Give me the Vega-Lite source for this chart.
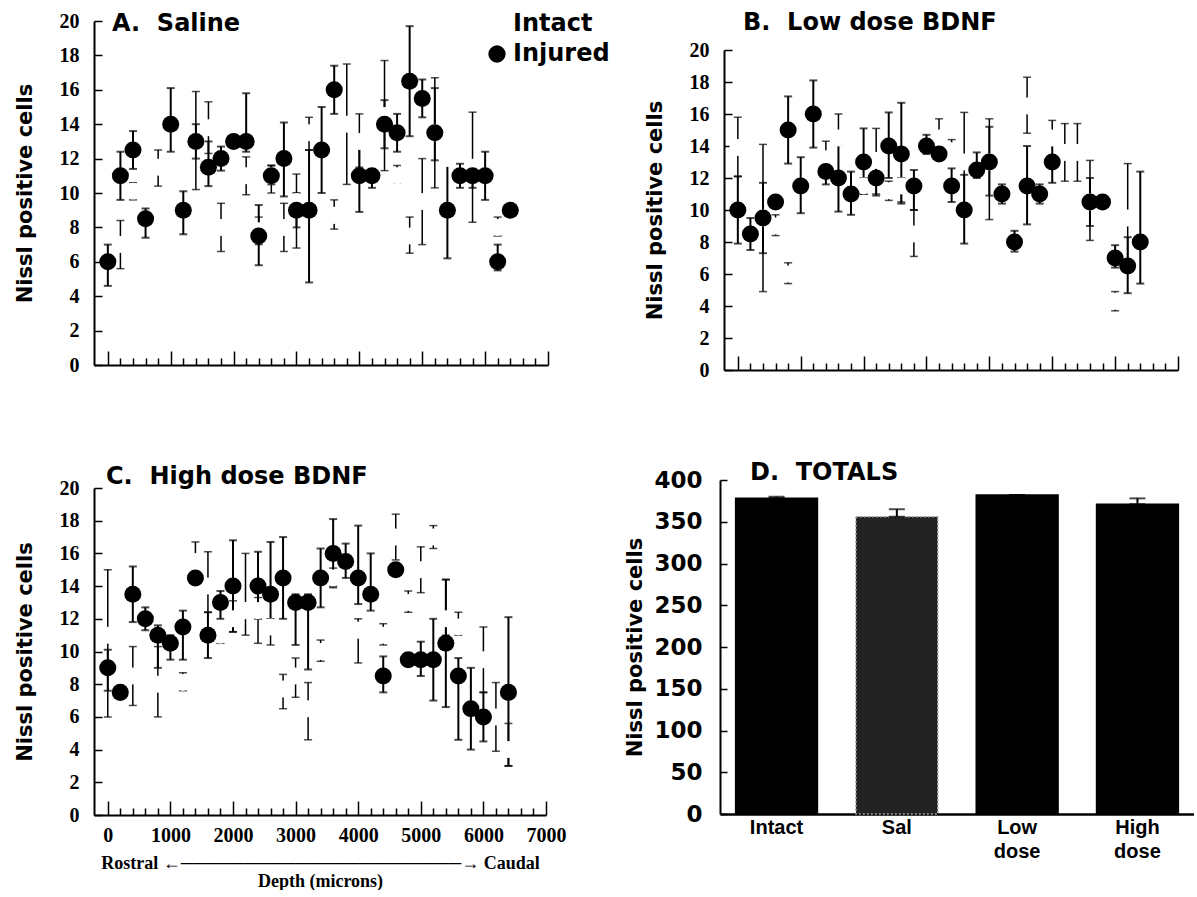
{
  "$schema": "https://vega.github.io/schema/vega-lite/v6.json",
  "background": "white",
  "padding": {"left": 14, "top": 11, "right": 0, "bottom": 0},
  "config": {
    "view": {"stroke": null},
    "axis": {"grid": false, "domainColor": "black", "domainWidth": 2, "tickColor": "black", "tickWidth": 1.5, "labelColor": "black", "titleColor": "black", "labelFlush": false, "labelOverlap": false},
    "title": {"font": "DejaVu Sans", "fontWeight": "bold", "fontSize": 24, "color": "black", "anchor": "start", "frame": "group"}
  },
  "datasets": {
    "dots": [
      {"panel":"A","group":"Intact","depth":200,"mean":7,"lo":5.6,"hi":8.4},
      {"panel":"A","group":"Intact","depth":400,"mean":10.1,"lo":9.6,"hi":10.6},
      {"panel":"A","group":"Intact","depth":800,"mean":11.5,"lo":10.4,"hi":12.5},
      {"panel":"A","group":"Intact","depth":1400,"mean":13,"lo":10.2,"hi":15.9},
      {"panel":"A","group":"Intact","depth":1600,"mean":13.8,"lo":12.3,"hi":15.3},
      {"panel":"A","group":"Intact","depth":1800,"mean":8,"lo":6.6,"hi":9.4},
      {"panel":"A","group":"Intact","depth":2200,"mean":11,"lo":9.9,"hi":12.1},
      {"panel":"A","group":"Intact","depth":2400,"mean":7.8,"lo":7.0,"hi":8.6},
      {"panel":"A","group":"Intact","depth":2600,"mean":11,"lo":10.0,"hi":11.6},
      {"panel":"A","group":"Intact","depth":2800,"mean":8,"lo":6.6,"hi":9.4},
      {"panel":"A","group":"Intact","depth":3000,"mean":9.5,"lo":6.8,"hi":11.1},
      {"panel":"A","group":"Intact","depth":3200,"mean":13.5,"lo":12.5,"hi":14.4},
      {"panel":"A","group":"Intact","depth":3600,"mean":8.7,"lo":7.9,"hi":9.6},
      {"panel":"A","group":"Intact","depth":3800,"mean":14,"lo":10.5,"hi":17.5},
      {"panel":"A","group":"Intact","depth":4000,"mean":13,"lo":11.5,"hi":14.6},
      {"panel":"A","group":"Intact","depth":4200,"mean":11.6,"lo":11.3,"hi":11.9},
      {"panel":"A","group":"Intact","depth":4400,"mean":14.5,"lo":11.3,"hi":17.7},
      {"panel":"A","group":"Intact","depth":4600,"mean":11,"lo":10.6,"hi":11.6},
      {"panel":"A","group":"Intact","depth":4800,"mean":7.5,"lo":6.5,"hi":8.6},
      {"panel":"A","group":"Intact","depth":5000,"mean":9.5,"lo":7.0,"hi":12.0},
      {"panel":"A","group":"Intact","depth":5200,"mean":13.5,"lo":10.3,"hi":16.7},
      {"panel":"A","group":"Intact","depth":5400,"mean":12,"lo":11.7,"hi":12.3},
      {"panel":"A","group":"Intact","depth":5800,"mean":11.5,"lo":8.3,"hi":14.7},
      {"panel":"A","group":"Intact","depth":6200,"mean":8,"lo":7.5,"hi":8.6},
      {"panel":"A","group":"Injured","depth":0,"mean":6,"lo":4.6,"hi":7.0},
      {"panel":"A","group":"Injured","depth":200,"mean":11,"lo":9.6,"hi":12.4},
      {"panel":"A","group":"Injured","depth":400,"mean":12.5,"lo":11.4,"hi":13.6},
      {"panel":"A","group":"Injured","depth":600,"mean":8.5,"lo":7.4,"hi":9.1},
      {"panel":"A","group":"Injured","depth":1000,"mean":14,"lo":12.4,"hi":16.1},
      {"panel":"A","group":"Injured","depth":1200,"mean":9,"lo":7.6,"hi":10.1},
      {"panel":"A","group":"Injured","depth":1400,"mean":13,"lo":12,"hi":14},
      {"panel":"A","group":"Injured","depth":1600,"mean":11.5,"lo":10.4,"hi":13.0},
      {"panel":"A","group":"Injured","depth":1800,"mean":12,"lo":11.3,"hi":12.7},
      {"panel":"A","group":"Injured","depth":2000,"mean":13,"lo":12.7,"hi":13.3},
      {"panel":"A","group":"Injured","depth":2200,"mean":13,"lo":12.4,"hi":15.8},
      {"panel":"A","group":"Injured","depth":2400,"mean":7.5,"lo":5.8,"hi":9.3},
      {"panel":"A","group":"Injured","depth":2600,"mean":11,"lo":10.5,"hi":11.6},
      {"panel":"A","group":"Injured","depth":2800,"mean":12,"lo":9.8,"hi":14.1},
      {"panel":"A","group":"Injured","depth":3000,"mean":9,"lo":8,"hi":10},
      {"panel":"A","group":"Injured","depth":3200,"mean":9,"lo":4.8,"hi":12.5},
      {"panel":"A","group":"Injured","depth":3400,"mean":12.5,"lo":10.0,"hi":15.0},
      {"panel":"A","group":"Injured","depth":3600,"mean":16,"lo":14.6,"hi":17.4},
      {"panel":"A","group":"Injured","depth":4000,"mean":11,"lo":8.9,"hi":13.1},
      {"panel":"A","group":"Injured","depth":4200,"mean":11,"lo":10.3,"hi":11.7},
      {"panel":"A","group":"Injured","depth":4400,"mean":14,"lo":12.6,"hi":15.4},
      {"panel":"A","group":"Injured","depth":4600,"mean":13.5,"lo":12.4,"hi":14.6},
      {"panel":"A","group":"Injured","depth":4800,"mean":16.5,"lo":13.3,"hi":19.7},
      {"panel":"A","group":"Injured","depth":5000,"mean":15.5,"lo":14.4,"hi":16.6},
      {"panel":"A","group":"Injured","depth":5200,"mean":13.5,"lo":11.9,"hi":16.1},
      {"panel":"A","group":"Injured","depth":5400,"mean":9,"lo":6.2,"hi":11.8},
      {"panel":"A","group":"Injured","depth":5600,"mean":11,"lo":10.3,"hi":11.7},
      {"panel":"A","group":"Injured","depth":5800,"mean":11,"lo":10.3,"hi":11.7},
      {"panel":"A","group":"Injured","depth":6000,"mean":11,"lo":9.6,"hi":12.4},
      {"panel":"A","group":"Injured","depth":6200,"mean":6,"lo":5.5,"hi":7.0},
      {"panel":"A","group":"Injured","depth":6400,"mean":9,"lo":8.7,"hi":9.3},
      {"panel":"B","group":"Intact","depth":0,"mean":13.9,"lo":12.1,"hi":15.8},
      {"panel":"B","group":"Intact","depth":400,"mean":9.5,"lo":4.9,"hi":14.1},
      {"panel":"B","group":"Intact","depth":600,"mean":9,"lo":8.4,"hi":9.7},
      {"panel":"B","group":"Intact","depth":800,"mean":6,"lo":5.4,"hi":6.7},
      {"panel":"B","group":"Intact","depth":1400,"mean":13.2,"lo":12.2,"hi":14.3},
      {"panel":"B","group":"Intact","depth":1600,"mean":14.5,"lo":14.1,"hi":16.0},
      {"panel":"B","group":"Intact","depth":2000,"mean":11.5,"lo":11.0,"hi":12.0},
      {"panel":"B","group":"Intact","depth":2200,"mean":13.1,"lo":11.0,"hi":15.1},
      {"panel":"B","group":"Intact","depth":2400,"mean":11.2,"lo":10.6,"hi":11.8},
      {"panel":"B","group":"Intact","depth":2600,"mean":11.5,"lo":10.5,"hi":12.0},
      {"panel":"B","group":"Intact","depth":2800,"mean":8.5,"lo":7.1,"hi":10.0},
      {"panel":"B","group":"Intact","depth":3200,"mean":14.5,"lo":14.2,"hi":15.7},
      {"panel":"B","group":"Intact","depth":3400,"mean":13.7,"lo":13.5,"hi":14.4},
      {"panel":"B","group":"Intact","depth":3600,"mean":13,"lo":10.0,"hi":16.1},
      {"panel":"B","group":"Intact","depth":4000,"mean":13,"lo":9.4,"hi":15.7},
      {"panel":"B","group":"Intact","depth":4600,"mean":16.5,"lo":14.8,"hi":18.3},
      {"panel":"B","group":"Intact","depth":5000,"mean":14.5,"lo":14.1,"hi":15.6},
      {"panel":"B","group":"Intact","depth":5200,"mean":13.6,"lo":11.8,"hi":15.4},
      {"panel":"B","group":"Intact","depth":5400,"mean":13.6,"lo":11.8,"hi":15.4},
      {"panel":"B","group":"Intact","depth":5600,"mean":10.5,"lo":8.1,"hi":13.1},
      {"panel":"B","group":"Intact","depth":5800,"mean":9.6,"lo":9.4,"hi":9.8},
      {"panel":"B","group":"Intact","depth":6000,"mean":4.3,"lo":3.7,"hi":4.9},
      {"panel":"B","group":"Intact","depth":6200,"mean":9.5,"lo":6.1,"hi":12.9},
      {"panel":"B","group":"Intact","depth":6400,"mean":4,"lo":3.8,"hi":4.2},
      {"panel":"B","group":"Injured","depth":0,"mean":10,"lo":7.9,"hi":12.1},
      {"panel":"B","group":"Injured","depth":200,"mean":8.5,"lo":7.5,"hi":9.5},
      {"panel":"B","group":"Injured","depth":400,"mean":9.5,"lo":7.3,"hi":11.7},
      {"panel":"B","group":"Injured","depth":600,"mean":10.5,"lo":10.2,"hi":10.8},
      {"panel":"B","group":"Injured","depth":800,"mean":15,"lo":12.9,"hi":17.1},
      {"panel":"B","group":"Injured","depth":1000,"mean":11.5,"lo":9.8,"hi":13.3},
      {"panel":"B","group":"Injured","depth":1200,"mean":16,"lo":13.9,"hi":18.1},
      {"panel":"B","group":"Injured","depth":1400,"mean":12.4,"lo":11.6,"hi":13.2},
      {"panel":"B","group":"Injured","depth":1600,"mean":12,"lo":9.9,"hi":14.1},
      {"panel":"B","group":"Injured","depth":1800,"mean":11,"lo":9.7,"hi":12.4},
      {"panel":"B","group":"Injured","depth":2000,"mean":13,"lo":11.0,"hi":15.1},
      {"panel":"B","group":"Injured","depth":2200,"mean":12,"lo":10.9,"hi":13.1},
      {"panel":"B","group":"Injured","depth":2400,"mean":14,"lo":12.0,"hi":16.1},
      {"panel":"B","group":"Injured","depth":2600,"mean":13.5,"lo":10.4,"hi":16.7},
      {"panel":"B","group":"Injured","depth":2800,"mean":11.5,"lo":10.0,"hi":12.5},
      {"panel":"B","group":"Injured","depth":3000,"mean":14,"lo":13.5,"hi":14.7},
      {"panel":"B","group":"Injured","depth":3200,"mean":13.5,"lo":13.2,"hi":13.8},
      {"panel":"B","group":"Injured","depth":3400,"mean":11.5,"lo":10.5,"hi":12.6},
      {"panel":"B","group":"Injured","depth":3600,"mean":10,"lo":7.9,"hi":12.2},
      {"panel":"B","group":"Injured","depth":3800,"mean":12.5,"lo":12.0,"hi":13.6},
      {"panel":"B","group":"Injured","depth":4000,"mean":13,"lo":10.9,"hi":15.2},
      {"panel":"B","group":"Injured","depth":4200,"mean":11,"lo":10.4,"hi":11.6},
      {"panel":"B","group":"Injured","depth":4400,"mean":8,"lo":7.4,"hi":8.7},
      {"panel":"B","group":"Injured","depth":4600,"mean":11.5,"lo":9.1,"hi":14.0},
      {"panel":"B","group":"Injured","depth":4800,"mean":11,"lo":10.4,"hi":11.6},
      {"panel":"B","group":"Injured","depth":5000,"mean":13,"lo":11.7,"hi":14.3},
      {"panel":"B","group":"Injured","depth":5600,"mean":10.5,"lo":9.0,"hi":12.0},
      {"panel":"B","group":"Injured","depth":5800,"mean":10.5,"lo":10.2,"hi":10.8},
      {"panel":"B","group":"Injured","depth":6000,"mean":7,"lo":6.4,"hi":7.8},
      {"panel":"B","group":"Injured","depth":6200,"mean":6.5,"lo":4.8,"hi":8.3},
      {"panel":"B","group":"Injured","depth":6400,"mean":8,"lo":5.4,"hi":12.4},
      {"panel":"C","group":"Intact","depth":0,"mean":11,"lo":6.0,"hi":15.0},
      {"panel":"C","group":"Intact","depth":400,"mean":8.5,"lo":6.7,"hi":10.3},
      {"panel":"C","group":"Intact","depth":800,"mean":8,"lo":6.0,"hi":10.3},
      {"panel":"C","group":"Intact","depth":1200,"mean":8.1,"lo":7.6,"hi":8.7},
      {"panel":"C","group":"Intact","depth":1400,"mean":15.5,"lo":15.3,"hi":16.7},
      {"panel":"C","group":"Intact","depth":1600,"mean":14,"lo":12.4,"hi":16.1},
      {"panel":"C","group":"Intact","depth":1800,"mean":11,"lo":10.5,"hi":11.4},
      {"panel":"C","group":"Intact","depth":2000,"mean":12,"lo":11.2,"hi":13.1},
      {"panel":"C","group":"Intact","depth":2200,"mean":12.5,"lo":11.0,"hi":16.0},
      {"panel":"C","group":"Intact","depth":2400,"mean":12.5,"lo":10.5,"hi":13.3},
      {"panel":"C","group":"Intact","depth":2600,"mean":11.5,"lo":10.4,"hi":12.0},
      {"panel":"C","group":"Intact","depth":2800,"mean":7.7,"lo":6.5,"hi":8.6},
      {"panel":"C","group":"Intact","depth":3000,"mean":8.5,"lo":7.2,"hi":9.6},
      {"panel":"C","group":"Intact","depth":3200,"mean":6.5,"lo":4.6,"hi":8.1},
      {"panel":"C","group":"Intact","depth":3400,"mean":10,"lo":9.4,"hi":10.7},
      {"panel":"C","group":"Intact","depth":3600,"mean":14.5,"lo":13.9,"hi":15.1},
      {"panel":"C","group":"Intact","depth":4000,"mean":11.3,"lo":9.3,"hi":12.0},
      {"panel":"C","group":"Intact","depth":4200,"mean":11,"lo":10.7,"hi":11.2},
      {"panel":"C","group":"Intact","depth":4400,"mean":11,"lo":10.4,"hi":11.7},
      {"panel":"C","group":"Intact","depth":4600,"mean":17,"lo":15.6,"hi":18.4},
      {"panel":"C","group":"Intact","depth":4800,"mean":13,"lo":12.4,"hi":13.7},
      {"panel":"C","group":"Intact","depth":5000,"mean":15,"lo":13.6,"hi":16.4},
      {"panel":"C","group":"Intact","depth":5200,"mean":17,"lo":16.3,"hi":17.7},
      {"panel":"C","group":"Intact","depth":5400,"mean":12,"lo":11.0,"hi":14.4},
      {"panel":"C","group":"Intact","depth":5600,"mean":11.5,"lo":11.0,"hi":12.4},
      {"panel":"C","group":"Intact","depth":6000,"mean":9.5,"lo":7.5,"hi":11.5},
      {"panel":"C","group":"Intact","depth":6200,"mean":6,"lo":3.9,"hi":8.1},
      {"panel":"C","group":"Intact","depth":6400,"mean":4,"lo":3.0,"hi":5.6},
      {"panel":"C","group":"Injured","depth":0,"mean":9,"lo":7.6,"hi":10.1},
      {"panel":"C","group":"Injured","depth":200,"mean":7.5,"lo":7.4,"hi":7.6},
      {"panel":"C","group":"Injured","depth":400,"mean":13.5,"lo":11.8,"hi":15.2},
      {"panel":"C","group":"Injured","depth":600,"mean":12,"lo":11.3,"hi":12.7},
      {"panel":"C","group":"Injured","depth":800,"mean":11,"lo":9.0,"hi":11.6},
      {"panel":"C","group":"Injured","depth":1000,"mean":10.5,"lo":9.5,"hi":11.0},
      {"panel":"C","group":"Injured","depth":1200,"mean":11.5,"lo":9.5,"hi":12.5},
      {"panel":"C","group":"Injured","depth":1400,"mean":14.5,"lo":14.2,"hi":14.8},
      {"panel":"C","group":"Injured","depth":1600,"mean":11,"lo":9.6,"hi":12.4},
      {"panel":"C","group":"Injured","depth":1800,"mean":13,"lo":12.0,"hi":13.7},
      {"panel":"C","group":"Injured","depth":2000,"mean":14,"lo":11.2,"hi":16.8},
      {"panel":"C","group":"Injured","depth":2400,"mean":14,"lo":12.0,"hi":16.1},
      {"panel":"C","group":"Injured","depth":2600,"mean":13.5,"lo":11.7,"hi":16.7},
      {"panel":"C","group":"Injured","depth":2800,"mean":14.5,"lo":12.0,"hi":17.0},
      {"panel":"C","group":"Injured","depth":3000,"mean":13,"lo":10.4,"hi":13.5},
      {"panel":"C","group":"Injured","depth":3200,"mean":13,"lo":8.9,"hi":13.5},
      {"panel":"C","group":"Injured","depth":3400,"mean":14.5,"lo":12.7,"hi":16.3},
      {"panel":"C","group":"Injured","depth":3600,"mean":16,"lo":14.0,"hi":18.1},
      {"panel":"C","group":"Injured","depth":3800,"mean":15.5,"lo":14.5,"hi":16.6},
      {"panel":"C","group":"Injured","depth":4000,"mean":14.5,"lo":12.9,"hi":17.7},
      {"panel":"C","group":"Injured","depth":4200,"mean":13.5,"lo":12.5,"hi":16.0},
      {"panel":"C","group":"Injured","depth":4400,"mean":8.5,"lo":7.5,"hi":9.7},
      {"panel":"C","group":"Injured","depth":4600,"mean":15,"lo":14.8,"hi":15.2},
      {"panel":"C","group":"Injured","depth":4800,"mean":9.5,"lo":9.3,"hi":9.7},
      {"panel":"C","group":"Injured","depth":5000,"mean":9.5,"lo":8.5,"hi":10.6},
      {"panel":"C","group":"Injured","depth":5200,"mean":9.5,"lo":7.0,"hi":12.0},
      {"panel":"C","group":"Injured","depth":5400,"mean":10.5,"lo":6.6,"hi":14.4},
      {"panel":"C","group":"Injured","depth":5600,"mean":8.5,"lo":4.6,"hi":9.6},
      {"panel":"C","group":"Injured","depth":5800,"mean":6.5,"lo":4.0,"hi":9.0},
      {"panel":"C","group":"Injured","depth":6000,"mean":6,"lo":4.5,"hi":7.5},
      {"panel":"C","group":"Injured","depth":6400,"mean":7.5,"lo":3.0,"hi":12.1}
    ],
    "totals": [
      {"group":"Intact","total":378,"upper":380},
      {"group":"Sal","total":356,"upper":365},
      {"group":"Low dose","total":382,"upper":382},
      {"group":"High dose","total":371,"upper":378}
    ]
  },
  "resolve": {"scale": {"color": "independent"}},
  "spacing": 81,
  "vconcat": [
    {
      "spacing": 34,
      "resolve": {"scale": {"color": "independent"}},
      "hconcat": [
        {
          "width": 454, "height": 344,
          "title": {"text": "A.\u00a0\u00a0Saline", "offset": -25, "dx": 18},
          "data": {"name": "dots"},
          "transform": [{"filter": "datum.panel === 'A'"}],
          "encoding": {
            "x": {"field": "depth", "type": "quantitative", "scale": {"domain": [-220, 7000], "nice": false, "zero": false},
                  "axis": {"values": [0,200,400,600,800,1000,1200,1400,1600,1800,2000,2200,2400,2600,2800,3000,3200,3400,3600,3800,4000,4200,4400,4600,4800,5000,5200,5400,5600,5800,6000,6200,6400,6600,6800,7000],
                           "labels": false, "title": null,
                           "tickSize": {"condition": {"test": "datum.value % 1000 === 0", "value": -14}, "value": -7}}}
          },
          "layer": [
            {"transform": [{"filter": "datum.group === 'Intact'"}],
             "mark": {"type": "errorbar", "ticks": true, "size": 8, "thickness": 1.5, "color": "black"},
             "encoding": {"y": {"field": "lo", "type": "quantitative", "scale": {"domain": [0, 20], "nice": false},
                                "axis": {"values": [0,2,4,6,8,10,12,14,16,18,20], "labelOverlap": false, "title": "Nissl positive cells", "tickSize": -8, "labelPadding": 23, "titlePadding": 24, "labelFont": "Liberation Serif", "labelFontSize": 20, "labelFontWeight": "bold", "titleFont": "DejaVu Sans", "titleFontSize": 21, "titleFontWeight": "bold"}},
                          "y2": {"field": "hi"}}},
            {"transform": [{"filter": "datum.group === 'Injured'"}],
             "mark": {"type": "errorbar", "ticks": true, "size": 8, "thickness": 2, "color": "black"},
             "encoding": {"y": {"field": "lo", "type": "quantitative", "scale": {"domain": [0, 20], "nice": false},
                                "axis": {"values": [0,2,4,6,8,10,12,14,16,18,20], "labelOverlap": false, "title": "Nissl positive cells", "tickSize": -8, "labelPadding": 23, "titlePadding": 24, "labelFont": "Liberation Serif", "labelFontSize": 20, "labelFontWeight": "bold", "titleFont": "DejaVu Sans", "titleFontSize": 21, "titleFontWeight": "bold"}},
                          "y2": {"field": "hi"}}},
            {"mark": {"type": "point", "filled": true, "shape": "circle", "size": 290, "opacity": 1, "strokeWidth": 0},
             "encoding": {"y": {"field": "mean", "type": "quantitative", "scale": {"domain": [0, 20], "nice": false},
                                "axis": {"values": [0,2,4,6,8,10,12,14,16,18,20], "labelOverlap": false, "title": "Nissl positive cells", "tickSize": -8, "labelPadding": 23, "titlePadding": 24, "labelFont": "Liberation Serif", "labelFontSize": 20, "labelFontWeight": "bold", "titleFont": "DejaVu Sans", "titleFontSize": 21, "titleFontWeight": "bold"}},
                          "color": {"field": "group", "type": "nominal", "scale": {"domain": ["Intact", "Injured"], "range": ["white", "black"]},
                                    "legend": {"orient": "none", "legendX": 391, "legendY": -9, "title": null, "symbolType": "circle", "symbolSize": 300, "symbolStrokeWidth": 0, "labelFont": "DejaVu Sans", "labelFontSize": 24, "labelFontWeight": "bold", "labelColor": "black", "rowPadding": 6, "labelOffset": 4}}}}
          ]
        },
        {
          "width": 454, "height": 349,
          "title": {"text": "B.\u00a0\u00a0Low dose BDNF", "offset": -14, "dx": 19},
          "data": {"name": "dots"},
          "transform": [{"filter": "datum.panel === 'B'"}],
          "encoding": {
            "x": {"field": "depth", "type": "quantitative", "scale": {"domain": [-220, 7000], "nice": false, "zero": false},
                  "axis": {"values": [0,200,400,600,800,1000,1200,1400,1600,1800,2000,2200,2400,2600,2800,3000,3200,3400,3600,3800,4000,4200,4400,4600,4800,5000,5200,5400,5600,5800,6000,6200,6400,6600,6800,7000],
                           "labels": false, "title": null,
                           "tickSize": {"condition": {"test": "datum.value % 1000 === 0", "value": -14}, "value": -7}}}
          },
          "layer": [
            {"transform": [{"filter": "datum.group === 'Intact'"}],
             "mark": {"type": "errorbar", "ticks": true, "size": 8, "thickness": 1.5, "color": "black"},
             "encoding": {"y": {"field": "lo", "type": "quantitative", "scale": {"domain": [0, 20], "nice": false, "range": [349, 29]},
                                "axis": {"values": [0,2,4,6,8,10,12,14,16,18,20], "labelOverlap": false, "title": "Nissl positive cells", "tickSize": -8, "labelPadding": 23, "titlePadding": 24, "labelFont": "Liberation Serif", "labelFontSize": 20, "labelFontWeight": "bold", "titleFont": "DejaVu Sans", "titleFontSize": 21, "titleFontWeight": "bold"}},
                          "y2": {"field": "hi"}}},
            {"transform": [{"filter": "datum.group === 'Injured'"}],
             "mark": {"type": "errorbar", "ticks": true, "size": 8, "thickness": 2, "color": "black"},
             "encoding": {"y": {"field": "lo", "type": "quantitative", "scale": {"domain": [0, 20], "nice": false, "range": [349, 29]},
                                "axis": {"values": [0,2,4,6,8,10,12,14,16,18,20], "labelOverlap": false, "title": "Nissl positive cells", "tickSize": -8, "labelPadding": 23, "titlePadding": 24, "labelFont": "Liberation Serif", "labelFontSize": 20, "labelFontWeight": "bold", "titleFont": "DejaVu Sans", "titleFontSize": 21, "titleFontWeight": "bold"}},
                          "y2": {"field": "hi"}}},
            {"transform": [{"filter": "datum.group === 'Intact'"}],
             "mark": {"type": "point", "filled": true, "shape": "circle", "size": 290, "opacity": 1, "strokeWidth": 0, "color": "white"},
             "encoding": {"y": {"field": "mean", "type": "quantitative", "scale": {"domain": [0, 20], "nice": false, "range": [349, 29]},
                                "axis": {"values": [0,2,4,6,8,10,12,14,16,18,20], "labelOverlap": false, "title": "Nissl positive cells", "tickSize": -8, "labelPadding": 23, "titlePadding": 24, "labelFont": "Liberation Serif", "labelFontSize": 20, "labelFontWeight": "bold", "titleFont": "DejaVu Sans", "titleFontSize": 21, "titleFontWeight": "bold"}}}},
            {"transform": [{"filter": "datum.group === 'Injured'"}],
             "mark": {"type": "point", "filled": true, "shape": "circle", "size": 290, "opacity": 1, "strokeWidth": 0, "color": "black"},
             "encoding": {"y": {"field": "mean", "type": "quantitative", "scale": {"domain": [0, 20], "nice": false, "range": [349, 29]},
                                "axis": {"values": [0,2,4,6,8,10,12,14,16,18,20], "labelOverlap": false, "title": "Nissl positive cells", "tickSize": -8, "labelPadding": 23, "titlePadding": 24, "labelFont": "Liberation Serif", "labelFontSize": 20, "labelFontWeight": "bold", "titleFont": "DejaVu Sans", "titleFontSize": 21, "titleFontWeight": "bold"}}}}
          ]
        }
      ]
    },
    {
      "spacing": 58,
      "resolve": {"scale": {"color": "independent"}},
      "hconcat": [
        {
          "width": 452, "height": 335,
          "title": {"text": "C.\u00a0\u00a0High dose BDNF", "offset": -11, "dx": 12},
          "data": {"name": "dots"},
          "transform": [{"filter": "datum.panel === 'C'"}],
          "encoding": {
            "x": {"field": "depth", "type": "quantitative", "scale": {"domain": [-220, 7000], "nice": false, "zero": false},
                  "axis": {"values": [0,200,400,600,800,1000,1200,1400,1600,1800,2000,2200,2400,2600,2800,3000,3200,3400,3600,3800,4000,4200,4400,4600,4800,5000,5200,5400,5600,5800,6000,6200,6400,6600,6800,7000],
                           "format": "d", "labelExpr": "datum.value % 1000 === 0 ? datum.label : ''",
                           "labelFont": "Liberation Serif", "labelFontSize": 20, "labelFontWeight": "bold", "labelPadding": 24,
                           "title": ["Rostral ←──────────────────────→ Caudal", "Depth (microns)"],
                           "titleFont": "Liberation Serif", "titleFontSize": 18, "titleFontWeight": "bold", "titlePadding": 2, "titleLineHeight": 18,
                           "tickSize": {"condition": {"test": "datum.value % 1000 === 0", "value": -14}, "value": -7}}}
          },
          "layer": [
            {"transform": [{"filter": "datum.group === 'Intact'"}],
             "mark": {"type": "errorbar", "ticks": true, "size": 8, "thickness": 1.5, "color": "black"},
             "encoding": {"y": {"field": "lo", "type": "quantitative", "scale": {"domain": [0, 20], "nice": false, "range": [335, 8]},
                                "axis": {"values": [0,2,4,6,8,10,12,14,16,18,20], "labelOverlap": false, "title": "Nissl positive cells", "tickSize": -8, "labelPadding": 23, "titlePadding": 24, "labelFont": "Liberation Serif", "labelFontSize": 20, "labelFontWeight": "bold", "titleFont": "DejaVu Sans", "titleFontSize": 21, "titleFontWeight": "bold"}},
                          "y2": {"field": "hi"}}},
            {"transform": [{"filter": "datum.group === 'Injured'"}],
             "mark": {"type": "errorbar", "ticks": true, "size": 8, "thickness": 2, "color": "black"},
             "encoding": {"y": {"field": "lo", "type": "quantitative", "scale": {"domain": [0, 20], "nice": false, "range": [335, 8]},
                                "axis": {"values": [0,2,4,6,8,10,12,14,16,18,20], "labelOverlap": false, "title": "Nissl positive cells", "tickSize": -8, "labelPadding": 23, "titlePadding": 24, "labelFont": "Liberation Serif", "labelFontSize": 20, "labelFontWeight": "bold", "titleFont": "DejaVu Sans", "titleFontSize": 21, "titleFontWeight": "bold"}},
                          "y2": {"field": "hi"}}},
            {"transform": [{"filter": "datum.group === 'Intact'"}],
             "mark": {"type": "point", "filled": true, "shape": "circle", "size": 290, "opacity": 1, "strokeWidth": 0, "color": "white"},
             "encoding": {"y": {"field": "mean", "type": "quantitative", "scale": {"domain": [0, 20], "nice": false, "range": [335, 8]},
                                "axis": {"values": [0,2,4,6,8,10,12,14,16,18,20], "labelOverlap": false, "title": "Nissl positive cells", "tickSize": -8, "labelPadding": 23, "titlePadding": 24, "labelFont": "Liberation Serif", "labelFontSize": 20, "labelFontWeight": "bold", "titleFont": "DejaVu Sans", "titleFontSize": 21, "titleFontWeight": "bold"}}}},
            {"transform": [{"filter": "datum.group === 'Injured'"}],
             "mark": {"type": "point", "filled": true, "shape": "circle", "size": 290, "opacity": 1, "strokeWidth": 0, "color": "black"},
             "encoding": {"y": {"field": "mean", "type": "quantitative", "scale": {"domain": [0, 20], "nice": false, "range": [335, 8]},
                                "axis": {"values": [0,2,4,6,8,10,12,14,16,18,20], "labelOverlap": false, "title": "Nissl positive cells", "tickSize": -8, "labelPadding": 23, "titlePadding": 24, "labelFont": "Liberation Serif", "labelFontSize": 20, "labelFontWeight": "bold", "titleFont": "DejaVu Sans", "titleFontSize": 21, "titleFontWeight": "bold"}}}}
          ]
        },
        {
          "width": 474, "height": 334,
          "title": {"text": "D.\u00a0\u00a0TOTALS", "offset": -16, "dx": 30},
          "data": {"name": "totals"},
          "encoding": {
            "x": {"field": "group", "type": "nominal", "sort": ["Intact", "Sal", "Low dose", "High dose"],
                  "scale": {"paddingInner": 0.32, "paddingOuter": 0.13},
                  "axis": {"title": null, "ticks": false, "labelAngle": 0, "labelExpr": "split(datum.label, ' ')", "labelFont": "Liberation Sans", "labelFontSize": 20, "labelFontWeight": "bold", "labelPadding": 3, "labelLineHeight": 24, "domainWidth": 2.5}}
          },
          "layer": [
            {"mark": {"type": "bar", "strokeWidth": 1.5},
             "encoding": {
               "y": {"field": "total", "type": "quantitative", "scale": {"domain": [0, 400], "nice": false},
                     "axis": {"values": [0,50,100,150,200,250,300,350,400], "labelOverlap": false, "title": "Nissl positive cells", "tickSize": -7, "labelPadding": 25, "titlePadding": 8, "labelFont": "DejaVu Sans", "labelFontSize": 23, "labelFontWeight": "bold", "titleFont": "DejaVu Sans", "titleFontSize": 21, "titleFontWeight": "bold"}},
               "fill": {"condition": {"test": "datum.group === 'Sal'", "value": "#222222"}, "value": "black"},
               "stroke": {"condition": {"test": "datum.group === 'Sal'", "value": "#a0a0a0"}, "value": "black"},
               "strokeDash": {"condition": {"test": "datum.group === 'Sal'", "value": [2, 2]}, "value": [1, 0]}
             }},
            {"mark": {"type": "errorbar", "ticks": true, "size": 16, "thickness": 2, "color": "black"},
             "encoding": {"y": {"field": "total", "type": "quantitative", "scale": {"domain": [0, 400], "nice": false},
                                "axis": {"values": [0,50,100,150,200,250,300,350,400], "labelOverlap": false, "title": "Nissl positive cells", "tickSize": -7, "labelPadding": 25, "titlePadding": 8, "labelFont": "DejaVu Sans", "labelFontSize": 23, "labelFontWeight": "bold", "titleFont": "DejaVu Sans", "titleFontSize": 21, "titleFontWeight": "bold"}},
                          "y2": {"field": "upper"}}}
          ]
        }
      ]
    }
  ]
}
